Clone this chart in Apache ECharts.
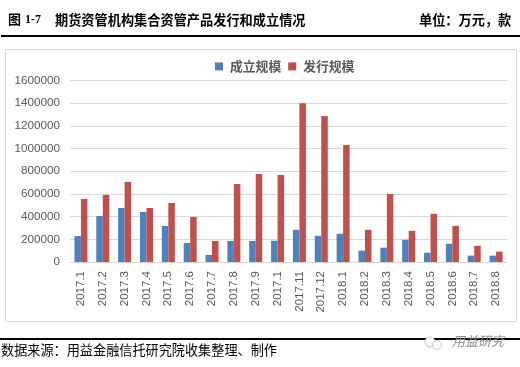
<!DOCTYPE html>
<html>
<head>
<meta charset="utf-8">
<style>
  html, body { margin: 0; padding: 0; background: #fff; }
  #chart { width: 520px; height: 367px; }
</style>
<script src="https://cdn.jsdelivr.net/npm/echarts@6/dist/echarts.min.js"></script>
</head>
<body>
<div id="chart"></div>
<script>
const categories = ["2017.1", "2017.2", "2017.3", "2017.4", "2017.5", "2017.6", "2017.7", "2017.8", "2017.9", "2017.1", "2017.11",
  "2017.12", "2018.1", "2018.2", "2018.3", "2018.4", "2018.5", "2018.6", "2018.7", "2018.8"];
const established = [229000, 406000, 476000, 441000, 318000, 168000, 62000, 185000, 185000, 187000, 284000,
  231000, 249000, 100000, 126000, 196000, 82000, 161000, 56000, 56000];
const issued = [556000, 591000, 706000, 476000, 520000, 397000, 185000, 688000, 776000, 767000, 1400000,
  1286000, 1031000, 284000, 600000, 275000, 425000, 319000, 143000, 91000];

const cjk = '"Noto Sans CJK SC", sans-serif';
const latin = '"Liberation Sans", Arial, sans-serif';

const chart = echarts.init(document.getElementById("chart"));
chart.setOption({
  animation: false,
  backgroundColor: "#fff",
  legend: {
    left: 210,
    top: 55,
    itemWidth: 8,
    itemHeight: 8,
    itemGap: 7,
    icon: "rect",
    textStyle: { fontFamily: cjk, fontSize: 12.8, fontWeight: "bold", color: "#595959", padding: [0, 0, 0, 2] }
  },
  grid: { left: 70, right: 13, top: 80.5, bottom: 105 },
  xAxis: {
    type: "category",
    data: categories,
    axisTick: { show: false },
    axisLine: { lineStyle: { color: "#d9d9d9", width: 1 } },
    axisLabel: {
      interval: 0,
      rotate: 90,
      margin: 9,
      fontFamily: latin,
      fontSize: 11.5,
      color: "#595959"
    }
  },
  yAxis: {
    type: "value",
    min: 0,
    max: 1600000,
    interval: 200000,
    axisLine: { show: false },
    axisTick: { show: false },
    splitLine: { lineStyle: { color: "#d9d9d9", width: 1 } },
    axisLabel: { margin: 10, fontFamily: latin, fontSize: 11.7, color: "#595959", formatter: v => String(v) }
  },
  series: [
    { name: "成立规模", type: "bar", data: established, barWidth: 6.5, barGap: "0%", itemStyle: { color: "#4f81bd" } },
    { name: "发行规模", type: "bar", data: issued, barWidth: 6.5, barGap: "0%", itemStyle: { color: "#c0504d" } }
  ],
  graphic: [
    { type: "rect", silent: true, z: 0, shape: { x: 5.5, y: 49.5, width: 511, height: 272 }, style: { fill: "none", stroke: "#d9d9d9", lineWidth: 1 } },
    { type: "rect", silent: true, shape: { x: 1, y: 35, width: 519, height: 2 }, style: { fill: "#000" } },
    { type: "rect", silent: true, shape: { x: 0, y: 338, width: 520, height: 2 }, style: { fill: "#000" } },
    { type: "text", left: 8, top: 13, style: { text: "图", fontFamily: cjk, fontSize: 13, fontWeight: "bold", fill: "#000" } },
    { type: "text", left: 25, top: 14, style: { text: "1-7", fontFamily: '"Liberation Serif", serif', fontSize: 12, fontWeight: "bold", fill: "#000" } },
    { type: "text", left: 55, top: 13, style: { text: "期货资管机构集合资管产品发行和成立情况", fontFamily: cjk, fontSize: 13.2, fontWeight: "bold", fill: "#000" } },
    { type: "text", left: 419, top: 13, style: { text: "单位：万元，款", fontFamily: cjk, fontSize: 13.2, fontWeight: "bold", fill: "#000" } },
    { type: "text", left: 1, top: 343, style: { text: "数据来源：用益金融信托研究院收集整理、制作", fontFamily: cjk, fontSize: 13.15, fill: "#000" } },
    { type: "circle", silent: true, shape: { cx: 430, cy: 342, r: 5 }, style: { fill: "#fff", stroke: "#c4c4c4", lineWidth: 1 } },
    { type: "circle", silent: true, shape: { cx: 437, cy: 345, r: 4.5 }, style: { fill: "#fff", stroke: "#c4c4c4", lineWidth: 1 } },
    { type: "text", left: 452, top: 335, style: { text: "用益研究", fontFamily: cjk, fontSize: 13, fontStyle: "italic", fill: "#8c8c8c" } }
  ]
});
</script>
</body>
</html>
